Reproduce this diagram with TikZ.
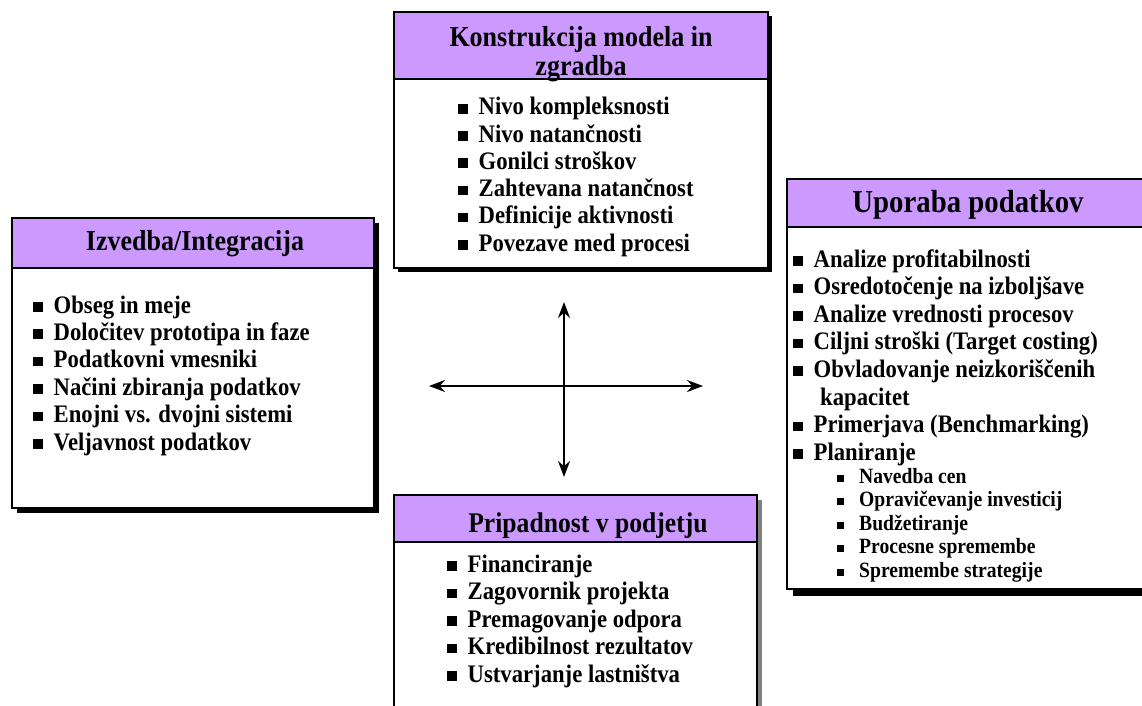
\documentclass[tikz,border=0pt]{standalone}
\usepackage{fontspec}
\setmainfont[FakeStretch=0.9]{Liberation Serif}
\usetikzlibrary{arrows.meta}
\definecolor{headfill}{HTML}{CC99FF}
\definecolor{shadegray}{HTML}{808080}

\newcommand{\sqbul}{\raisebox{1.5pt}{\rule{9.5pt}{9.5pt}}\hspace{11pt}}
\newcommand{\sqsub}{\raisebox{1.5pt}{\rule{7pt}{7pt}}\hspace{15pt}}

\tikzset{
  panel/.style={draw=black, line width=1.3pt, fill=white},
  headband/.style={draw=black, line width=1.3pt, fill=headfill},
  item/.style={anchor=base west, inner sep=0pt, font=\bfseries\fontsize{25.2}{27}\selectfont},
  subitem/.style={anchor=base west, inner sep=0pt, font=\bfseries\fontsize{21.8}{23}\selectfont},
  title/.style={anchor=base, inner sep=0pt, font=\bfseries\fontsize{28.9}{29}\selectfont},
  axis/.style={line width=1.6pt, {Stealth[length=16pt,width=12pt]}-{Stealth[length=16pt,width=12pt]}}
}

\begin{document}
\begin{tikzpicture}[x=1pt,y=-1pt]
\useasboundingbox (0,0) rectangle (1142,706);
\clip (0,0) rectangle (1142,706);
\fill[white] (0,0) rectangle (1142,706);

% --- top panel: model construction
\fill[black] (398,16) rectangle (772,272);
\path[panel] (394,79) rectangle (768,268);
\path[headband] (394,12) rectangle (768,79);
\node[title] (ktitle1) at (581,47) {Konstrukcija modela in};
\node[title] (ktitle2) at (581,76) {zgradba};
\foreach [count=\i] \t in {{Nivo kompleksnosti},{Nivo natančnosti},{Gonilci stroškov},
  {Zahtevana natančnost},{Definicije aktivnosti},{Povezave med procesi}}
  \node[item] (k\i) at (458,{115+27.2*(\i-1)}) {\sqbul\t};

% --- left panel: implementation
\fill[black] (17,223) rectangle (379,513);
\path[panel] (12,268) rectangle (374,508);
\path[headband] (12,218) rectangle (374,268);
\node[title] (ititle) at (195,250) {Izvedba/Integracija};
\foreach [count=\i] \t in {{Obseg in meje},{Določitev prototipa in faze},{Podatkovni vmesniki},
  {Načini zbiranja podatkov},{Enojni vs. dvojni sistemi},{Veljavnost podatkov}}
  \node[item] (i\i) at (33,{313+27.4*(\i-1)}) {\sqbul\t};

% --- right panel: use of data
\fill[black] (793,185) rectangle (1156,596);
\path[panel] (787,227) rectangle (1150,589);
\path[headband] (787,179) rectangle (1150,227);
\node[title, font=\bfseries\fontsize{32}{32}\selectfont] (utitle) at (968,212) {Uporaba podatkov};
\node[item] (u1) at (793,267) {\sqbul Analize profitabilnosti};
\node[item] (u2) at (793,294.6) {\sqbul Osredotočenje na izboljšave};
\node[item] (u3) at (793,322.2) {\sqbul Analize vrednosti procesov};
\node[item] (u4) at (793,349.8) {\sqbul Ciljni stroški (Target costing)};
\node[item] (u5) at (793,377.4) {\sqbul Obvladovanje neizkoriščenih};
\node[item] (u5b) at (820,405) {kapacitet};
\node[item] (u6) at (793,432.6) {\sqbul Primerjava (Benchmarking)};
\node[item] (u7) at (793,460.2) {\sqbul Planiranje};
\foreach [count=\i] \t in {{Navedba cen},{Opravičevanje investicij},{Budžetiranje},
  {Procesne spremembe},{Spremembe strategije}}
  \node[subitem] (s\i) at (837,{483+23.5*(\i-1)}) {\sqsub\t};

% --- bottom panel: ownership
\fill[shadegray] (399,500) rectangle (762,720);
\path[panel] (394,542) rectangle (757,720);
\path[headband] (394,495) rectangle (757,542);
\node[title, font=\bfseries\fontsize{28.5}{29}\selectfont] (ptitle) at (588,532) {Pripadnost v podjetju};
\foreach [count=\i] \t in {{Financiranje},{Zagovornik projekta},{Premagovanje odpora},
  {Kredibilnost rezultatov},{Ustvarjanje lastništva}}
  \node[item] (p\i) at (447,{572+27.5*(\i-1)}) {\sqbul\t};

% --- central cross of double arrows
\coordinate (north) at (564,302);
\coordinate (south) at (564,477);
\coordinate (west) at (429,386);
\coordinate (east) at (703,386);
\draw[axis] (west) -- (east);
\draw[axis] (south) -- (north);
\end{tikzpicture}
\end{document}
